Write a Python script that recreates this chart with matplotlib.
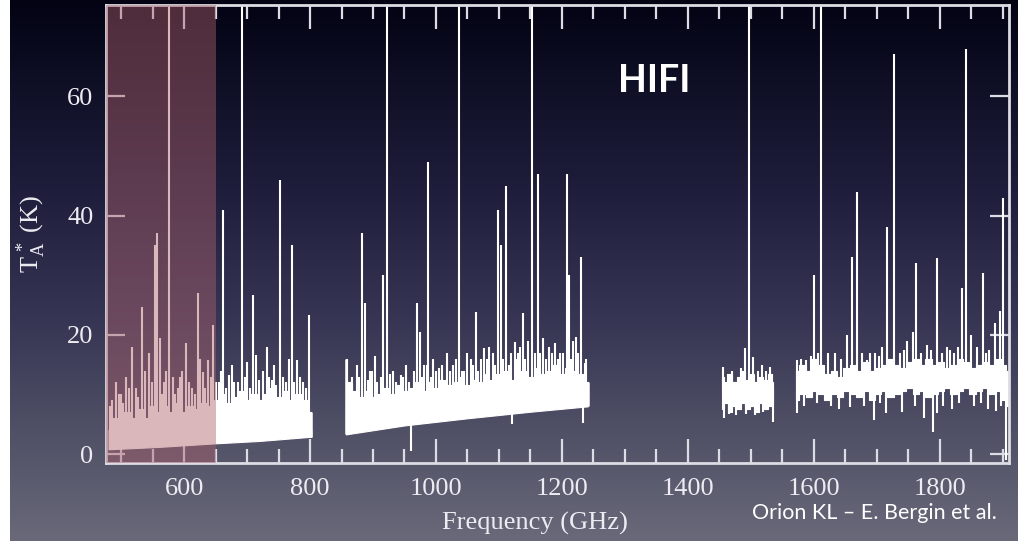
import numpy as np
import matplotlib
matplotlib.use("Agg")
import matplotlib.pyplot as plt
from matplotlib.ticker import MultipleLocator
from matplotlib.colors import LinearSegmentedColormap

# ---------------- spectrum data (Orion KL, HIFI bands) ----------------
# Band 1: 480-802 GHz, dense line forest above a sloping baseline
A_base_freq = [480, 560, 650, 720, 802]
A_base = [0.8, 1.2, 1.8, 2.2, 2.9]
A_freq = [480, 490, 500, 510, 520, 530, 540, 550, 560, 570, 580, 590, 600, 610,
          620, 630, 640, 650, 660, 670, 680, 690, 700, 710, 720, 730, 740, 750,
          760, 770, 780, 790, 802]
A_top = [4.5, 6, 5, 7, 6, 7.5, 6, 8, 7, 8, 7, 8.5, 7, 8, 7.5, 8.5, 8, 9, 10,
         8.5, 9.5, 10.5, 9, 10, 9, 10, 11, 9.5, 10.5, 9, 10, 9, 7]
A_line_freq = [483, 485, 492, 496, 500, 503, 507, 512, 517, 523, 527, 533, 538,
               545, 549, 554, 557, 562, 565, 568, 572, 576, 582, 586, 590, 593,
               597, 603, 608, 612, 617, 622, 626, 630, 634, 638, 642, 646, 650,
               655, 659, 662, 667, 671, 676, 680, 685, 692, 696, 700, 705, 709,
               714, 719, 725, 731, 735, 739, 743, 746, 752, 757, 762, 766, 771,
               775, 779, 784, 789, 793, 798]
A_line_peak = [8, 9, 12, 10, 10, 8.5, 13, 11, 18, 11, 9.5, 24.6, 14, 17, 12, 35,
               37, 19.4, 10, 12, 14, 78, 13, 10, 11, 13, 14, 18.6, 12, 11, 10,
               27, 16, 13.7, 11, 15.7, 13, 21.6, 12, 12, 14, 41, 11, 13.2, 15, 12,
               12, 78, 13, 15.4, 11, 26.6, 16.6, 12.5, 14, 18, 13, 12.4, 15, 11.5,
               46, 13, 12, 16, 35, 12, 15.7, 13, 12, 11, 23.3]

# Band 2: 857-1241 GHz
B_base_freq = [857, 950, 1050, 1150, 1241]
B_base = [3.3, 4.8, 6.0, 7.1, 8.0]
B_freq = [857, 862, 870, 880, 890, 900, 910, 920, 930, 940, 950, 960, 970, 980,
          990, 1000, 1010, 1020, 1030, 1040, 1050, 1060, 1070, 1080, 1090, 1100,
          1110, 1120, 1130, 1140, 1150, 1160, 1170, 1180, 1190, 1200, 1210, 1220,
          1230, 1241]
B_top = [16, 12, 10.5, 9.5, 10.5, 9.5, 10, 11, 10, 11.5, 10.5, 11, 12, 10.5, 12,
         11, 12.5, 11.5, 12, 13, 11.5, 12.5, 12, 13.5, 12.5, 13.5, 14, 12.5, 13.5,
         14, 13, 14.5, 13.5, 14, 15, 13.5, 14.5, 14, 13.5, 12]
B_line_freq = [860, 866, 874, 878, 882, 887, 892, 895, 899, 903, 907, 912, 916,
               922, 927, 931, 936, 944, 948, 952, 957, 965, 970, 974, 978, 981,
               985, 988, 992, 996, 1000, 1005, 1010, 1018, 1023, 1027, 1032, 1036,
               1041, 1045, 1050, 1055, 1059, 1063, 1067, 1071, 1077, 1081, 1085,
               1090, 1094, 1098, 1103, 1107, 1112, 1116, 1119, 1125, 1128, 1131,
               1134, 1138, 1142, 1146, 1153, 1157, 1162, 1166, 1170, 1175, 1179,
               1184, 1189, 1193, 1197, 1202, 1208, 1212, 1215, 1217, 1222, 1226,
               1230, 1236, 1239]
B_line_peak = [12, 13, 15, 13, 37, 25.3, 12.5, 14, 14, 16.4, 12, 13, 30, 78,
               13.5, 14, 12, 13.2, 13, 15, 12, 14, 25.3, 20.4, 13, 15, 15, 49,
               13, 16, 14, 14.5, 15, 17, 14, 15, 16, 78, 14, 14, 17, 16, 15,
               23.8, 14, 16, 17.8, 16, 18, 17, 15, 41, 35, 16, 45, 15, 17, 18.8,
               16, 17, 18, 23.6, 16, 19, 78, 17, 47, 17, 19.4, 16, 18, 17, 18.6,
               16, 17, 17, 47, 30, 16, 19, 19.6, 17, 33, 15.2, 16]
B_dip_freq = [960, 1121, 1233]
B_dip_val = [0.5, 5.0, 5.2]

# Band 6 (low part): 1454-1536 GHz, noise band
C_freq = [1454, 1460, 1467, 1474, 1481, 1488, 1495, 1502, 1509, 1516, 1523,
          1530, 1536]
C_low = [7.5, 8.5, 7, 8, 7.5, 8.5, 7.5, 8, 7, 8.5, 7.5, 8, 8]
C_top = [13, 12, 13.5, 12, 13, 14, 12.5, 13.5, 12, 13, 12.5, 13.5, 12]
C_line_freq = [1456, 1463, 1470, 1484, 1490, 1497, 1504, 1511, 1517, 1524, 1530]
C_line_peak = [14.6, 13.5, 14, 14.5, 17.8, 78, 16.3, 14, 15, 14, 14.6]
C_dip_freq = [1458, 1465, 1477, 1493, 1507, 1520, 1536]
C_dip_val = [6.0, 6.8, 6.5, 6.8, 6.5, 7.0, 5.3]

# Band 7: 1571-1909 GHz
D_freq = [1572, 1582, 1592, 1602, 1612, 1622, 1632, 1642, 1652, 1662, 1672,
          1682, 1692, 1702, 1712, 1722, 1732, 1742, 1752, 1762, 1772, 1782,
          1792, 1802, 1812, 1822, 1832, 1842, 1852, 1862, 1872, 1882, 1892,
          1902, 1909]
D_low = [9, 10, 9.5, 10.5, 10, 9, 10, 9.5, 10.5, 10, 9.5, 10.5, 9, 10, 10.5,
         9.5, 10, 10.5, 11, 10, 10.5, 9.5, 10, 10.5, 11, 10, 10.5, 11, 10, 10.5,
         11, 10, 10.5, 9, 8]
D_top = [14, 15, 14, 16, 15, 13.5, 14, 13, 14.5, 15, 14, 15.5, 14, 14.5, 15, 16,
         15, 14.5, 15.5, 16, 15, 16, 15, 15.5, 14.5, 15, 16, 15.5, 14.5, 15,
         15.5, 15, 16, 15, 14]
D_line_freq = [1574, 1580, 1588, 1595, 1601, 1607, 1612, 1622, 1633, 1643, 1652,
               1661, 1669, 1677, 1684, 1690, 1697, 1703, 1709, 1717, 1727, 1737,
               1743, 1748, 1757, 1763, 1771, 1779, 1786, 1795, 1803, 1811, 1816,
               1822, 1829, 1835, 1841, 1850, 1859, 1868, 1873, 1879, 1887, 1895,
               1900]
D_line_peak = [15.7, 16, 15.7, 16.5, 30, 17, 78, 17, 17, 16, 20, 33, 44, 17,
               15.7, 17, 17, 16.5, 18, 38, 67, 17, 17.5, 19, 20.4, 32, 17, 18.3,
               17.5, 32.8, 17, 18, 17.5, 17, 18, 27.8, 68, 20, 18, 30.3, 17,
               17.4, 22, 24, 43]
D_dip_freq = [1574, 1585, 1605, 1627, 1640, 1657, 1680, 1696, 1705, 1715, 1740,
              1760, 1775, 1789, 1796, 1805, 1820, 1830, 1855, 1865, 1876, 1890,
              1897, 1906]
D_dip_val = [6.9, 8.0, 8.5, 8.0, 7.5, 7.9, 8.0, 5.7, 8.5, 6.9, 7.0, 8.0, 6.0,
             3.7, 6.9, 8.0, 7.5, 8.5, 8.0, 8.5, 7.5, 7.3, 8.0, -1.0]

# highlighted band (HIFI band 1a range)
HILITE = (476, 650)

x_ticks = [600, 800, 1000, 1200, 1400, 1600, 1800]
y_ticks = [0, 20, 40, 60]

# ---------------- figure ----------------
W, H = 1018, 549
fig = plt.figure(figsize=(W / 100, H / 100), dpi=100)
fig.patch.set_facecolor("white")

# slide background gradient
bg = fig.add_axes([10 / W, 8 / H, 1 - 10 / W, 541 / H], zorder=-10)
stops = [(0.0, (3 / 255, 3 / 255, 20 / 255)),
         (0.35, (30 / 255, 30 / 255, 60 / 255)),
         (0.6, (55 / 255, 55 / 255, 85 / 255)),
         (0.8, (80 / 255, 80 / 255, 102 / 255)),
         (1.0, (105 / 255, 105 / 255, 122 / 255))]
cmap = LinearSegmentedColormap.from_list("slide", stops)
bg.imshow(np.linspace(0, 1, 256)[:, None], aspect="auto", cmap=cmap,
          extent=[0, 1, 0, 1], origin="upper")
bg.set_axis_off()

ax = fig.add_axes([106 / W, 1 - 463 / H, (1009 - 106) / W, (463 - 5) / H])
ax.set_facecolor("none")
ax.set_xlim(476, 1910)
ax.set_ylim(-1.5, 75.3)

WHITE = "white"
LW_LINE = 1.5


def forest(freq, top, base_freq, base, line_freq, line_peak, floor):
    # smooth sloping baseline up to a common floor, then the noisy top
    ax.fill_between(base_freq, base, floor, color=WHITE, lw=0.8, ec=WHITE,
                    zorder=2)
    ax.fill_between(freq, floor, top, step="mid", color=WHITE, lw=0.8,
                    ec=WHITE, zorder=2)
    ax.vlines(line_freq, floor, line_peak, colors=WHITE, lw=LW_LINE, zorder=2)


forest(A_freq, A_top, A_base_freq, A_base, A_line_freq, A_line_peak, 4.0)
forest(B_freq, B_top, B_base_freq, B_base, B_line_freq, B_line_peak, 9.0)
ax.vlines(B_dip_freq, 9.0, B_dip_val, colors=WHITE, lw=LW_LINE, zorder=2)
# band edges
ax.vlines([A_freq[-1], B_freq[0], B_freq[-1]],
          [A_base[-1], B_base[0], B_base[-1]],
          [A_top[-1], B_top[0], B_top[-1]], colors=WHITE, lw=1.8, zorder=2)

for fr, lo, hi, lf, lp, df, dv in [
        (C_freq, C_low, C_top, C_line_freq, C_line_peak, C_dip_freq, C_dip_val),
        (D_freq, D_low, D_top, D_line_freq, D_line_peak, D_dip_freq, D_dip_val)]:
    ax.fill_between(fr, lo, hi, step="mid", color=WHITE, lw=0.8, ec=WHITE,
                    zorder=2)
    ax.vlines(lf, 11.0, lp, colors=WHITE, lw=LW_LINE, zorder=2)
    ax.vlines(df, 11.0, dv, colors=WHITE, lw=LW_LINE, zorder=2)

ax.axvspan(*HILITE, color="#ac606a", alpha=0.45, lw=0, zorder=3)

# frame and ticks
FRAME = "#dcdce4"
LABEL = "#ececf2"
for s in ax.spines.values():
    s.set_color(FRAME)
    s.set_linewidth(2.0)
ax.set_xticks(x_ticks)
ax.set_yticks(y_ticks)
ax.xaxis.set_minor_locator(MultipleLocator(50))
ax.tick_params(which="both", direction="in", top=True, right=True,
               color=FRAME, labelcolor=LABEL, width=1.6)
ax.tick_params(axis="x", which="major", length=17, pad=11, labelsize=19)
ax.tick_params(axis="x", which="minor", length=10)
ax.tick_params(axis="y", which="major", length=14, pad=9, labelsize=19)
for lab in ax.get_xticklabels() + ax.get_yticklabels():
    lab.set_family("Liberation Serif")

plt.rcParams["mathtext.fontset"] = "custom"
plt.rcParams["mathtext.rm"] = "Liberation Serif"
plt.rcParams["mathtext.it"] = "Liberation Serif:italic"

fig.text(31 / W, 1 - 234 / H, r"$\mathrm{T_A^{\,*}}$ (K)", rotation=90,
         ha="center", va="center", color=LABEL, fontsize=19,
         family="Liberation Serif")
fig.text(535 / W, 1 - 523 / H, "Frequency (GHz)", ha="center", va="center",
         color=LABEL, fontsize=19, family="Liberation Serif")

fig.text(654 / W, 1 - 81 / H, "HIFI", ha="center", va="center", color="white",
         fontsize=27, fontweight="bold", family="Lato")
fig.text(997 / W, 1 - 513 / H, "Orion KL \u2013 E. Bergin et al.", ha="right",
         va="center", color="white", fontsize=15.5, family="Lato")

fig.savefig("out.png", dpi=100, facecolor=fig.get_facecolor())
